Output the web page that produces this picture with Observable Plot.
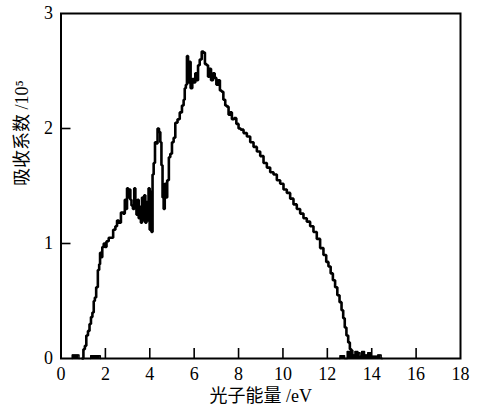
<!DOCTYPE html>
<html>
<head>
<meta charset="utf-8">
<script src="https://cdn.jsdelivr.net/npm/d3@7"></script>
<script src="https://cdn.jsdelivr.net/npm/@observablehq/plot@0.6"></script>
<style>
  html, body { margin: 0; padding: 0; background: #fff; }
  #chart svg { display: block; }
  #chart svg text { font-family: "Liberation Serif", "Noto Sans CJK SC", serif !important; }
</style>
</head>
<body>
<div id="chart"></div>
<script>
const xLabel = "光子能量 /eV";
const yLabel = "吸收系数 /10⁵";
const xTicks = [0, 2, 4, 6, 8, 10, 12, 14, 16, 18];
const yTicks = [0, 1, 2, 3];

// main absorption curve (photon energy eV, absorption 10^5)
const energy = [0.97,1.05,1.1,1.18,1.25,1.32,1.38,1.45,1.5,1.55,1.62,1.7,1.74,1.78,1.82,1.9,1.95,2.0,2.1,2.2,2.3,2.4,2.5,2.55,2.65,2.75,2.85,2.9,2.95,3.0,3.05,3.1,3.15,3.2,3.28,3.32,3.38,3.42,3.48,3.52,3.58,3.62,3.68,3.72,3.78,3.82,3.88,3.92,3.97,4.02,4.05,4.1,4.15,4.2,4.27,4.32,4.38,4.45,4.5,4.55,4.6,4.65,4.7,4.75,4.82,4.9,4.95,5.05,5.1,5.2,5.3,5.4,5.5,5.55,5.6,5.65,5.7,5.75,5.8,5.88,5.95,6.02,6.08,6.15,6.2,6.3,6.38,6.45,6.52,6.6,6.65,6.72,6.8,6.9,6.95,7.05,7.12,7.2,7.28,7.35,7.45,7.5,7.6,7.65,7.75,7.85,7.95,8.05,8.15,8.3,8.45,8.6,8.75,8.9,9.05,9.2,9.35,9.5,9.65,9.8,9.95,10.1,10.25,10.4,10.55,10.7,10.85,11.0,11.15,11.3,11.45,11.6,11.75,11.9,12.0,12.1,12.2,12.3,12.4,12.5,12.6,12.68,12.75,12.82,12.9,12.98,13.05,13.12];
const absorption = [0,0.08,0.11,0.2,0.24,0.3,0.36,0.4,0.5,0.53,0.62,0.77,0.82,0.92,0.88,0.97,1.0,0.97,1.02,1.05,1.05,1.12,1.15,1.2,1.18,1.27,1.26,1.38,1.3,1.48,1.4,1.47,1.38,1.33,1.3,1.48,1.35,1.25,1.38,1.22,1.32,1.18,1.4,1.2,1.42,1.18,1.36,1.2,1.48,1.12,1.45,1.1,1.6,1.7,1.88,1.87,2.0,1.97,1.88,1.68,1.4,1.3,1.52,1.4,1.55,1.75,1.78,1.88,1.92,2.05,2.08,2.14,2.2,2.25,2.35,2.38,2.63,2.4,2.58,2.35,2.43,2.4,2.48,2.42,2.55,2.6,2.67,2.66,2.56,2.55,2.45,2.52,2.42,2.48,2.44,2.38,2.42,2.33,2.32,2.25,2.2,2.19,2.12,2.14,2.08,2.09,2.04,2.0,1.99,1.96,1.93,1.88,1.84,1.8,1.76,1.7,1.66,1.62,1.6,1.55,1.52,1.47,1.44,1.39,1.34,1.3,1.26,1.22,1.19,1.15,1.1,1.04,0.96,0.9,0.84,0.8,0.74,0.68,0.62,0.55,0.49,0.42,0.35,0.27,0.2,0.14,0.08,0.03,0.0];

// baseline noise blips
const noiseGroup = ["a","a","a","a","b","b","b","b","c","c","c","c","c","c","c","c","c","c","c","c","c","c","c","c","c"];
const noiseEnergy = [0.5,0.52,0.8,0.82,1.33,1.35,1.76,1.78,12.55,12.6,12.75,12.8,13.0,13.1,13.2,13.3,13.45,13.5,13.6,13.75,13.9,14.0,14.2,14.35,14.5];
const noiseAbsorption = [0,0.03,0.03,0,0,0.025,0.025,0,0,0.025,0.025,0.0,0.06,0.07,0.03,0.06,0.05,0.02,0.06,0.03,0.05,0.02,0.02,0.03,0.0];

const main = energy.map((e, i) => ({e, a: absorption[i]}));
const noise = noiseEnergy.map((e, i) => ({e, a: noiseAbsorption[i], g: noiseGroup[i]}));

const W = 480, H = 412, mt = 13, mb = 54, ml = 60.5, mr = 20;
const yPerUnit = (H - mt - mb) / 3;
const xPerUnit = (W - ml - mr) / 18;
const tickLen = 10;
const font = "Liberation Serif, Noto Sans CJK SC, serif";

const chart = Plot.plot({
  width: W,
  height: H,
  marginTop: mt,
  marginBottom: mb,
  marginLeft: ml,
  marginRight: mr,
  style: {fontFamily: font, fontSize: "18px", color: "#000", background: "#fff"},
  x: {domain: [0, 18]},
  y: {domain: [0, 3]},
  marks: [
    Plot.axisX(xTicks, {tickSize: 0, tickPadding: 9, fontSize: 18, tickFormat: d3.format("d"), label: null}),
    Plot.axisY(yTicks, {tickSize: 0, tickPadding: 8, fontSize: 18, tickFormat: d3.format("d"), label: null}),
    Plot.ruleX(xTicks.slice(1, -1), {x: d => d, y1: 0, y2: tickLen / yPerUnit, stroke: "#000", strokeWidth: 1.6}),
    Plot.ruleY(yTicks.slice(1, -1), {y: d => d, x1: 0, x2: tickLen / xPerUnit, stroke: "#000", strokeWidth: 1.6}),
    Plot.areaY(noise, {x: "e", y: "a", z: "g", fill: "#000", curve: "step"}),
    Plot.line(noise, {x: "e", y: "a", z: "g", stroke: "#000", strokeWidth: 1.5, curve: "step"}),
    Plot.line(main, {x: "e", y: "a", stroke: "#000", strokeWidth: 2.6, curve: "step", strokeLinejoin: "miter"}),
    Plot.frame({stroke: "#000", strokeWidth: 2}),
    Plot.text([xLabel], {frameAnchor: "bottom", dy: 43, text: d => d, fontSize: 18, fill: "#000"}),
    Plot.text([yLabel], {frameAnchor: "left", dx: -39, rotate: -90, text: d => d, fontSize: 18, fill: "#000"})
  ]
});
document.getElementById("chart").append(chart);
</script>
</body>
</html>
